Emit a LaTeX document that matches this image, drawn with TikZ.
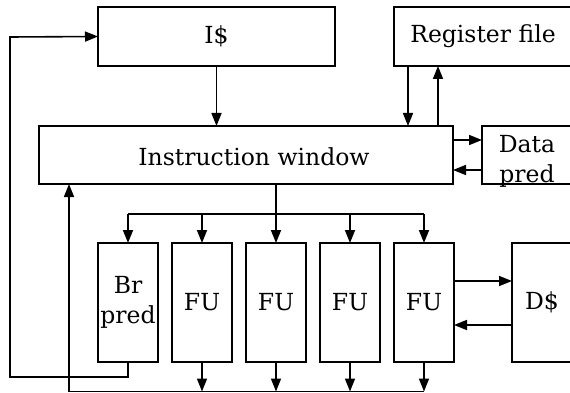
\documentclass[tikz,border=0pt]{standalone}
\usepackage{fontspec}
\setmainfont{DejaVu Serif}
\usetikzlibrary{arrows.meta}
\begin{document}
\begin{tikzpicture}[x=1pt,y=-1pt,
  box/.style={draw, line width=1.6pt, inner sep=0pt, outer sep=0pt, anchor=north west,
              font=\fontsize{23.5}{30}\selectfont, align=center},
  lbl/.style={font=\fontsize{23.5}{30}\selectfont, inner sep=0pt, align=center},
  arr/.style={line width=1.6pt, -{Triangle[length=13pt,width=10pt]}},
  wire/.style={line width=1.6pt}]
\useasboundingbox (0,0) rectangle (570,393);
\clip (0,0) rectangle (570,393);
% boxes
\node[box, minimum width=237pt, minimum height=59pt] (icache) at (98,7) {I\$};
\node[box, minimum width=178pt, minimum height=59pt] (rf) at (394,7) {Register file};
\node[box, minimum width=414pt, minimum height=58pt] (iw) at (39,126) {};
\node[lbl] (iwt) at (254,157) {Instruction window};
\node[box, minimum width=90pt, minimum height=58pt] (dp) at (482,126) {};
\node[lbl] (dpt) at (527,161) {Data\\pred};
\node[box, minimum width=60pt, minimum height=119pt] (bp) at (98,243) {Br\\pred};
\node[box, minimum width=60pt, minimum height=119pt] (fu1) at (172,243) {FU};
\node[box, minimum width=60pt, minimum height=119pt] (fu2) at (246,243) {FU};
\node[box, minimum width=60pt, minimum height=119pt] (fu3) at (320,243) {FU};
\node[box, minimum width=60pt, minimum height=119pt] (fu4) at (394,243) {FU};
\node[box, minimum width=60pt, minimum height=119pt] (ds) at (512,243) {D\$};
% coordinates
\coordinate (distL) at (128,214);
\coordinate (distR) at (424,214);
\coordinate (busL) at (69,391.5);
\coordinate (busR) at (424,391.5);
\coordinate (loopBL) at (10,377);
\coordinate (loopTL) at (10,37);
% I$ -> IW
\draw[arr] (icache.south) -- (iw.north -| icache.south);
% register file
\draw[arr] (rf.south -| 408,0) -- (iw.north -| 408,0);
\draw[arr] (iw.north -| 438,0) -- (rf.south -| 438,0);
% data pred
\draw[arr] (iw.east |- 0,140) -- (dp.west |- 0,140);
\draw[arr] (dp.west |- 0,170) -- (iw.east |- 0,170);
% distribution
\draw[wire] (distL) -- (distR);
\draw[arr] (iw.south -| fu2.north) -- (fu2.north);
\draw[arr] (distL) -- (bp.north);
\draw[arr] (distL -| fu1.north) -- (fu1.north);
\draw[arr] (distL -| fu3.north) -- (fu3.north);
\draw[arr] (distR) -- (fu4.north);
% results bus
\draw[arr] (fu1.south) -- (busL -| fu1.south);
\draw[arr] (fu2.south) -- (busL -| fu2.south);
\draw[arr] (fu3.south) -- (busL -| fu3.south);
\draw[arr] (fu4.south) -- (busR);
\draw[arr] (busR) -- (busL) -- (iw.south -| busL);
% branch loop
\draw[arr] (bp.south) -- (loopBL -| bp.south) -- (loopBL) -- (loopTL) -- (icache.west);
% D$
\draw[arr] (fu4.east |- 0,281) -- (ds.west |- 0,281);
\draw[arr] (ds.west |- 0,325) -- (fu4.east |- 0,325);
\end{tikzpicture}
\end{document}
